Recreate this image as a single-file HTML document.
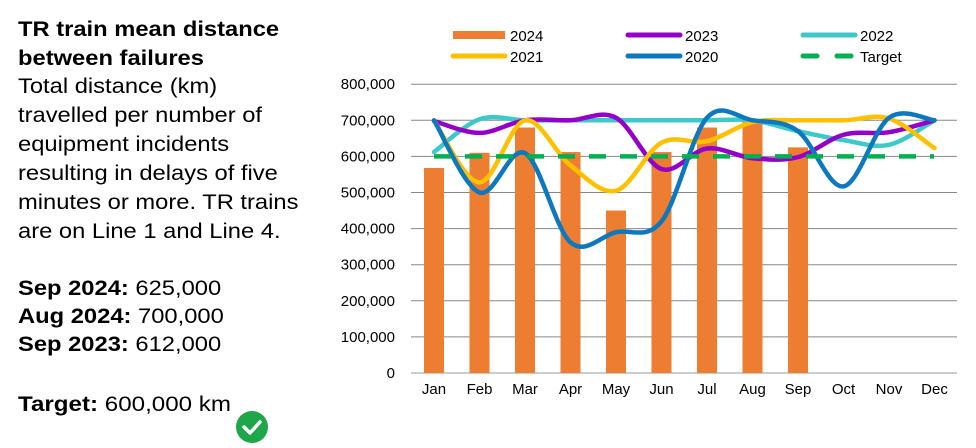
<!DOCTYPE html>
<html><head><meta charset="utf-8"><style>
body{margin:0;width:976px;height:448px;background:#fff;overflow:hidden;font-family:"Liberation Sans",Arial,sans-serif;color:#000}
.t{position:absolute;left:18px;font-size:21px;line-height:29px;transform:scaleX(1.13);transform-origin:0 0;white-space:nowrap}
</style></head><body>
<div class="t" style="top:15px;font-weight:bold;transform:scaleX(1.13)">TR train mean distance<br>between failures</div>
<div class="t" style="top:72px">Total distance (km)<br>travelled per number of<br>equipment incidents<br>resulting in delays of five<br>minutes or more. TR trains<br>are on Line 1 and Line 4.</div>
<div class="t" style="top:275px;line-height:28px;transform:scaleX(1.13)"><b>Sep 2024:</b> 625,000<br><b>Aug 2024:</b> 700,000<br><b>Sep 2023:</b> 612,000</div>
<div class="t" style="top:390px;transform:scaleX(1.15)"><b>Target:</b> 600,000 km</div>
<svg style="position:absolute;left:0;top:0" width="976" height="448">
<circle cx="252" cy="427" r="16" fill="#1ea64a"/>
<path d="M244 427 l6 6 l10 -11" stroke="#fff" stroke-width="3.5" fill="none" stroke-linecap="round" stroke-linejoin="round"/>
<g id="grid" stroke="#888" stroke-width="1"></g>
<g id="ylab" font-size="15" text-anchor="end" fill="#000"></g>
<g id="bars" fill="#ed7d31"></g>
<g id="lines" fill="none" stroke-width="4.5" stroke-linecap="round"></g>
<line x1="434" y1="156.4" x2="934" y2="156.4" stroke="#00b050" stroke-width="4.5" stroke-dasharray="17 14"/>
<g id="xlab" font-size="15" text-anchor="middle"></g>
<g font-size="15">
<rect x="453" y="31" width="52" height="8" fill="#ed7d31"/><text x="510" y="41">2024</text>
<line x1="628" y1="35" x2="680" y2="35" stroke="#9400c8" stroke-width="5" stroke-linecap="round"/><text x="685" y="41">2023</text>
<line x1="803" y1="35" x2="855" y2="35" stroke="#3ec8c8" stroke-width="5" stroke-linecap="round"/><text x="860" y="41">2022</text>
<line x1="453" y1="56" x2="505" y2="56" stroke="#ffc000" stroke-width="5" stroke-linecap="round"/><text x="510" y="62">2021</text>
<line x1="628" y1="56" x2="680" y2="56" stroke="#0c78c0" stroke-width="5" stroke-linecap="round"/><text x="685" y="62">2020</text>
<line x1="803" y1="56" x2="855" y2="56" stroke="#00b050" stroke-width="5" stroke-dasharray="14 20" stroke-linecap="round"/><text x="860" y="62">Target</text>
</g>
</svg>
<script>
var y0=373,s=0.361,x0=434,dx=45.5;
function Y(v){return y0-v*s}function X(i){return x0+i*dx}
var g='',yl='';
for(var k=0;k<=8;k++){var y=Y(k*100);if(k>0)g+='<line x1="411" x2="957" y1="'+y+'" y2="'+y+'"/>';
yl+='<text x="395" y="'+(y+5)+'">'+(k==0?'0':k*100+',000')+'</text>';}
g+='<line x1="411" x2="957" y1="'+y0+'" y2="'+y0+'" stroke="#999"/>';
document.getElementById('grid').innerHTML=g;document.getElementById('ylab').innerHTML=yl;
var b=[568,610,680,612,450,612,680,700,625],bh='';
b.forEach(function(v,i){bh+='<rect x="'+(X(i)-10)+'" y="'+Y(v)+'" width="20" height="'+(v*s)+'"/>'});
document.getElementById('bars').innerHTML=bh;
var m=['Jan','Feb','Mar','Apr','May','Jun','Jul','Aug','Sep','Oct','Nov','Dec'],xl='';
m.forEach(function(t,i){xl+='<text x="'+X(i)+'" y="394">'+t+'</text>'});
document.getElementById('xlab').innerHTML=xl;
var S=[['#3ec8c8',[612,703,700,700,700,700,700,700,670,645,632,700]],
['#9400c8',[698,665,700,700,707,565,622,595,598,660,667,700]],
['#ffc000',[700,528,700,575,505,638,642,695,700,700,705,623]],
['#0c78c0',[700,500,609,362,390,420,707,700,670,517,707,700]]];
var lh='';
S.forEach(function(s2){var v=s2[1],p=v.map(function(a,i){return[X(i),Y(a)]});
var d='M'+p[0][0]+' '+p[0][1];
for(var i=0;i<p.length-1;i++){var a=p[i-1]||p[i],b1=p[i],c=p[i+1],e=p[i+2]||c;
d+=' C'+(b1[0]+(c[0]-a[0])/6)+' '+(b1[1]+(c[1]-a[1])/6)+' '+(c[0]-(e[0]-b1[0])/6)+' '+(c[1]-(e[1]-b1[1])/6)+' '+c[0]+' '+c[1];}
lh+='<path d="'+d+'" stroke="'+s2[0]+'"/>';});
document.getElementById('lines').innerHTML=lh;
</script>
</body></html>
